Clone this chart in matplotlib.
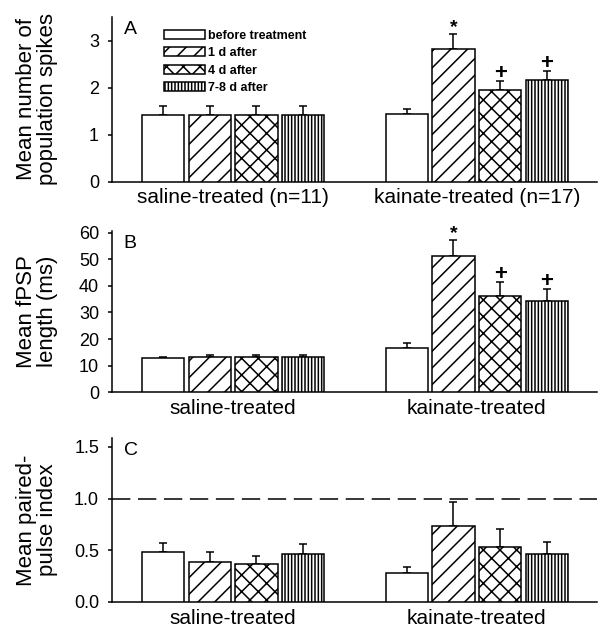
import numpy as np
import matplotlib

matplotlib.use("Agg")
import matplotlib.pyplot as plt

plt.rcParams["font.family"] = ["Liberation Sans", "DejaVu Sans"]
plt.rcParams["hatch.linewidth"] = 1.1

conditions = ["before treatment", "1 d after", "4 d after", "7-8 d after"]
groups_a = ["saline-treated (n=11)", "kainate-treated (n=17)"]
groups_bc = ["saline-treated", "kainate-treated"]

# rows: saline, kainate; columns: conditions
spikes_mean = [[1.42, 1.42, 1.42, 1.42], [1.43, 2.82, 1.95, 2.15]]
spikes_err = [[0.19, 0.19, 0.19, 0.19], [0.11, 0.32, 0.19, 0.21]]
spikes_marks = [["", "", "", ""], ["", "*", "+", "+"]]

fpsp_mean = [[12.75, 13.4, 13.4, 13.2], [16.5, 51.3, 36.2, 34.3]]
fpsp_err = [[0.6, 0.6, 0.6, 1.0], [1.9, 5.8, 5.4, 4.7]]
fpsp_marks = [["", "", "", ""], ["", "*", "+", "+"]]

ppi_mean = [[0.48, 0.39, 0.37, 0.46], [0.28, 0.73, 0.53, 0.46]]
ppi_err = [[0.09, 0.09, 0.07, 0.10], [0.06, 0.24, 0.18, 0.12]]
ppi_marks = [["", "", "", ""], ["", "", "", ""]]

hatches = ["", "//", "xx", "|||||"]
W, H = 603, 631
GROUP_OFFSET = 5.22
BAR_WIDTH = 0.906
# mark glyph: (font size, baseline offset in points)
MARK_STYLE = {"*": (14, 1.5), "+": (16, 1.2)}


def px_axes(fig, left, right, top, bottom):
    return fig.add_axes([left / W, 1 - bottom / H, (right - left) / W, (bottom - top) / H])


def draw_panel(ax, means, errs, marks, groups, ymax, yticks, ylabel, letter, fmt):
    bars = []
    for g in range(len(groups)):
        xs = g * GROUP_OFFSET + np.arange(len(conditions))
        for i, x in enumerate(xs):
            b = ax.bar(x, means[g][i], width=BAR_WIDTH, color="white", edgecolor="black",
                       linewidth=1.1, hatch=hatches[i], zorder=3, label=conditions[i])
            if g == 0:
                bars.append(b)
        ax.errorbar(xs, means[g], yerr=[np.zeros(len(xs)), errs[g]], fmt="none",
                    ecolor="black", elinewidth=1.1, capsize=2.6, capthick=1.1, zorder=2)
        for i, x in enumerate(xs):
            mark = marks[g][i]
            if mark:
                size, offset = MARK_STYLE[mark]
                ax.annotate(mark, (x, means[g][i] + errs[g][i]), xytext=(0, offset),
                            textcoords="offset points", ha="center", va="baseline",
                            fontsize=size, fontweight="bold")
    ax.set_xlim(-1.103, 9.293)
    ax.set_ylim(0, ymax)
    ax.set_yticks(yticks)
    ax.set_yticklabels([fmt.format(v) for v in yticks], fontsize=13)
    ax.set_xticks([1.5, 1.5 + GROUP_OFFSET])
    ax.set_xticklabels(groups, fontsize=15)
    ax.tick_params(axis="x", length=0, pad=5)
    ax.tick_params(axis="y", direction="out", length=3, width=1.1, pad=6)
    for side in ("top", "right"):
        ax.spines[side].set_visible(False)
    for side in ("left", "bottom"):
        ax.spines[side].set_linewidth(1.1)
    ax.set_ylabel(ylabel, fontsize=16, linespacing=1.0)
    ax.text(0.025, 0.975, letter, transform=ax.transAxes, fontsize=14, va="top", ha="left")
    return bars


fig = plt.figure(figsize=(W / 100, H / 100), dpi=100)
ax_a = px_axes(fig, 111.5, 597, 17, 181.5)
ax_b = px_axes(fig, 111.5, 597, 230.7, 392.3)
ax_c = px_axes(fig, 111.5, 597, 438, 602)

bars = draw_panel(ax_a, spikes_mean, spikes_err, spikes_marks, groups_a, 3.5,
                  [0, 1, 2, 3], "Mean number of\npopulation spikes", "A", "{:.0f}")
draw_panel(ax_b, fpsp_mean, fpsp_err, fpsp_marks, groups_bc, 60.75,
           [0, 10, 20, 30, 40, 50, 60], "Mean fPSP\nlength (ms)", "B", "{:.0f}")
draw_panel(ax_c, ppi_mean, ppi_err, ppi_marks, groups_bc, 1.585,
           [0.0, 0.5, 1.0, 1.5], "Mean paired-\npulse index", "C", "{:.1f}")
ax_c.axhline(1.0, color="black", linewidth=1.1, linestyle=(0, (12, 5)), zorder=1)

fig.legend(handles=bars, labels=conditions, loc="upper left",
           bbox_to_anchor=(164 / W, 1 - 30 / H), frameon=False, borderpad=0,
           borderaxespad=0, handlelength=3.3, handleheight=0.72, handletextpad=0.25,
           labelspacing=0.42, prop={"size": 9, "weight": "bold"})

for ax in (ax_a, ax_b, ax_c):
    ax.yaxis.set_label_coords(-0.11, 0.5)

fig.savefig("out.png", dpi=100)
